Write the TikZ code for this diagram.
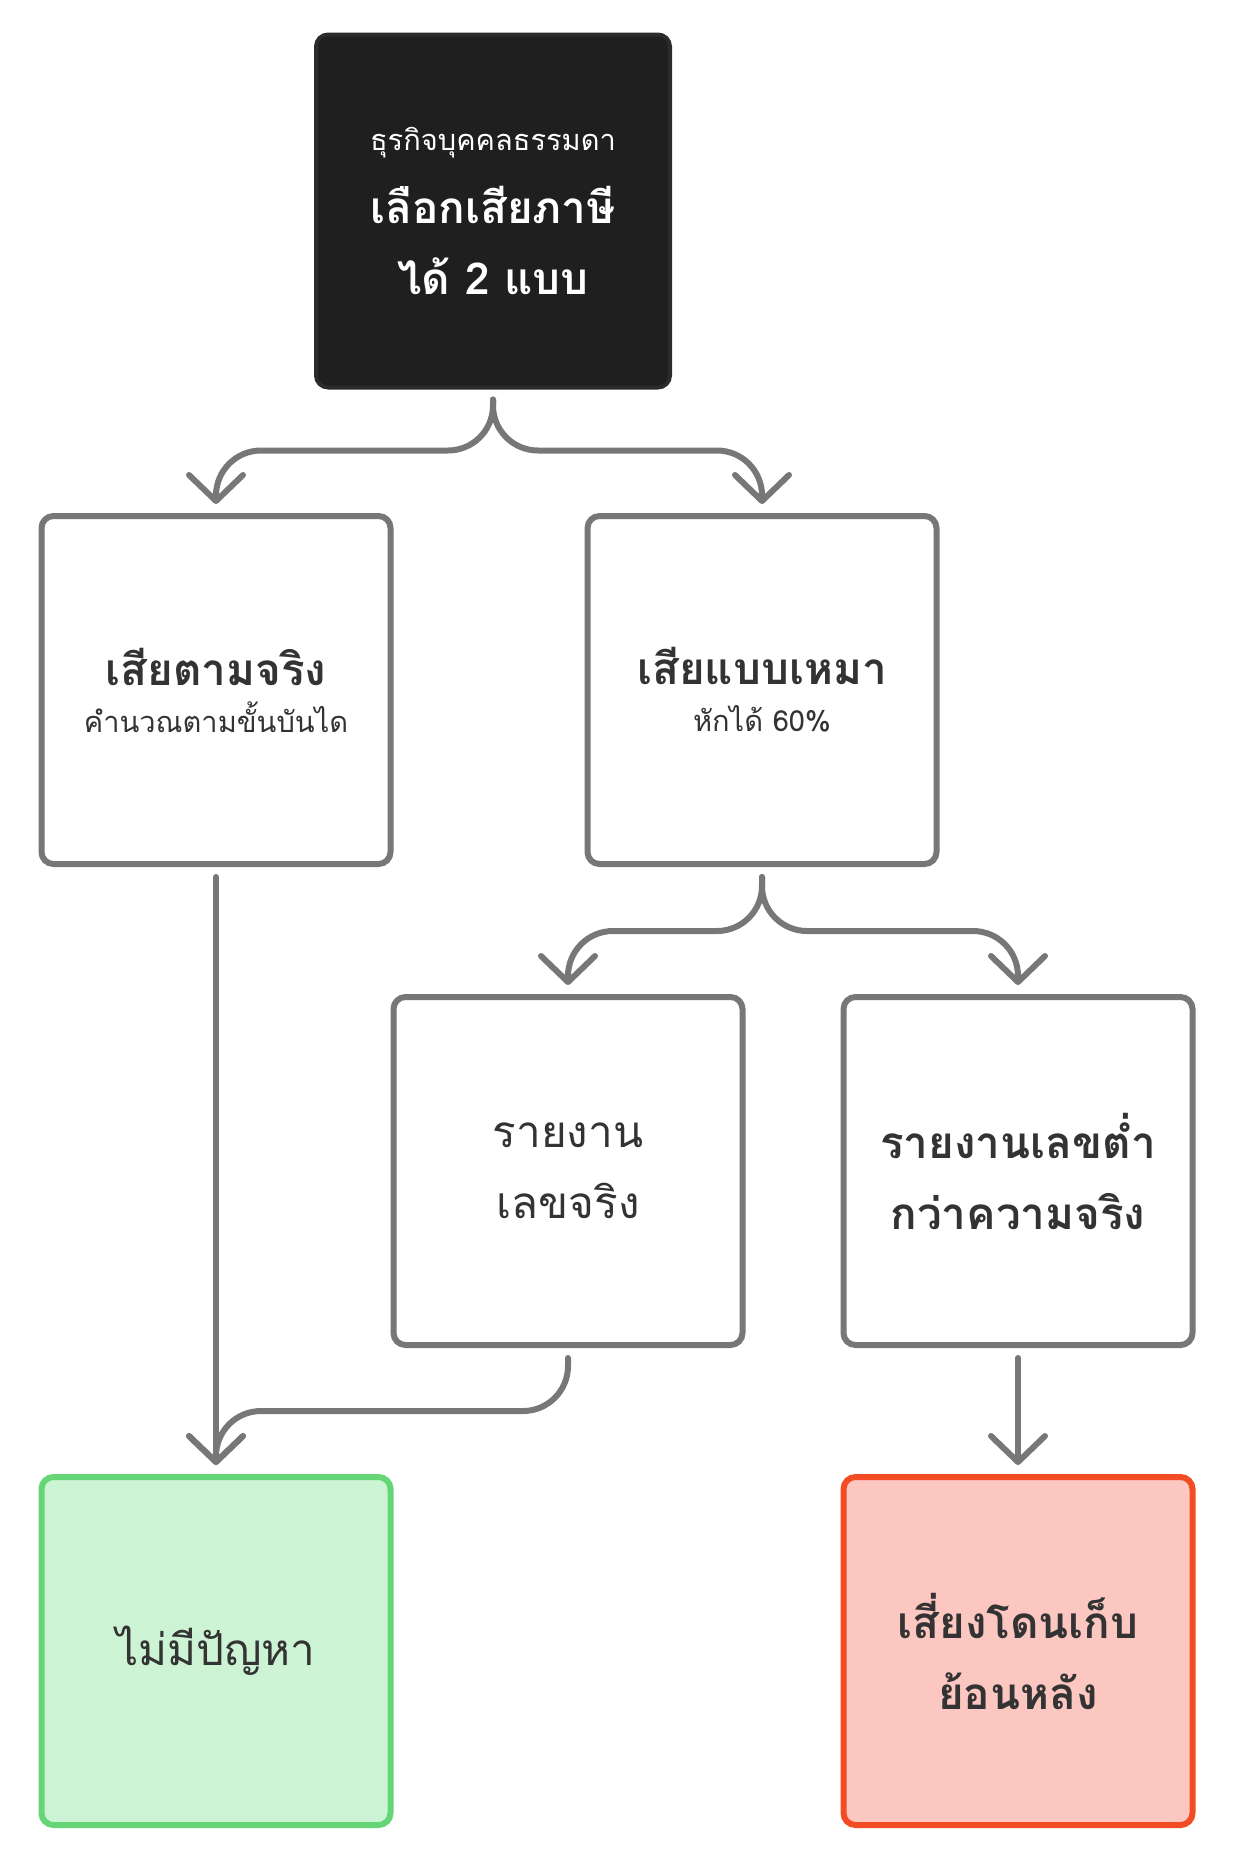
\documentclass[tikz,border=0pt]{standalone}
\usepackage{fontspec}
\newfontfamily\thaifont[Script=Thai]{Loma}
\usetikzlibrary{arrows.meta}
\definecolor{linegray}{HTML}{777777}
\definecolor{textdark}{HTML}{333333}
\definecolor{topfill}{HTML}{1F1F1F}
\definecolor{topline}{HTML}{2B2B2B}
\definecolor{okfill}{HTML}{CCF3D3}
\definecolor{okline}{HTML}{66D576}
\definecolor{riskfill}{HTML}{FCC6C1}
\definecolor{riskline}{HTML}{F24C24}
\newcommand{\bigtxt}{\fontsize{44}{71}\selectfont}
\newcommand{\smalltxt}{\fontsize{29}{40}\selectfont}
\begin{document}
\begin{tikzpicture}[x=1pt, y=-1pt,
    box/.style={draw=linegray, line width=6pt, rounded corners=12pt, fill=white,
      minimum width=349pt, minimum height=348pt, align=center, text=textdark,
      font=\thaifont\bigtxt},
    conn/.style={draw=linegray, line width=6pt, rounded corners=45pt,
      shorten <=10pt, shorten >=9pt, line cap=round,
      -{Straight Barb[length=26pt, width=54pt, line width=6pt, round]}}]
    \useasboundingbox (0,0) rectangle (1248,1871);
    % 起点
    \node[box, draw=topline, fill=topfill, text=white, line width=4pt,
      minimum width=354pt, minimum height=353pt] (top) at (493,211)
      {{\smalltxt ธุรกิจบุคคลธรรมดา}\\[2pt]\textbf{เลือกเสียภาษี}\\\textbf{ได้ 2 แบบ}};
    % 两种方式
    \node[box] (real) at (216,690) {\textbf{เสียตามจริง}\\[-24pt]{\smalltxt คำนวณตามขั้นบันได}};
    \node[box] (flat) at (762,690) {\textbf{เสียแบบเหมา}\\[-24pt]{\smalltxt หักได้ 60\%}};
    % 申报
    \node[box] (truth) at (568,1171) {รายงาน\\เลขจริง};
    \node[box] (under) at (1018,1171) {\textbf{รายงานเลขต่ำ}\\\textbf{กว่าความจริง}};
    % 结果
    \node[box, draw=okline, fill=okfill] (ok) at (216,1651) {ไม่มีปัญหา};
    \node[box, draw=riskline, fill=riskfill] (risk) at (1018,1651)
      {\textbf{เสี่ยงโดนเก็บ}\\\textbf{ย้อนหลัง}};
    % 连线
    \draw[conn] (top.south) -- ++(0,61) -| (real.north);
    \draw[conn] (top.south) -- ++(0,61) -| (flat.north);
    \draw[conn] (flat.south) -- ++(0,64) -| (truth.north);
    \draw[conn] (flat.south) -- ++(0,64) -| (under.north);
    \draw[conn] (real.south) -- (ok.north);
    \draw[conn] (truth.south) -- ++(0,63) -| (ok.north);
    \draw[conn] (under.south) -- (risk.north);
\end{tikzpicture}
\end{document}
